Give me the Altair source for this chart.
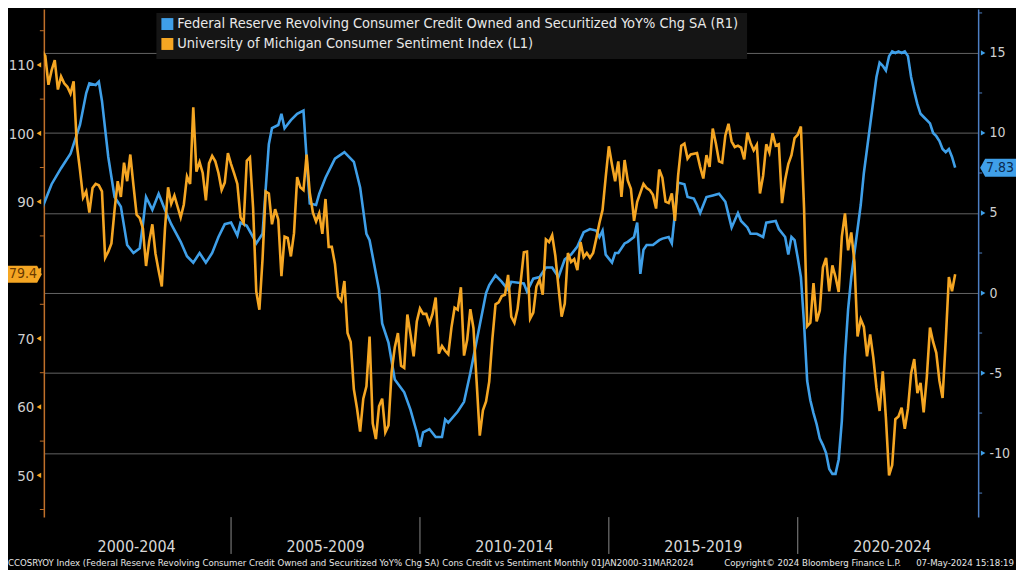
import altair as alt
import pandas as pd

FONT = "Liberation Sans Narrow, DejaVu Sans Condensed, Liberation Sans, sans-serif"
ORANGE = "#f5a623"
BLUE = "#3f9fe8"
BG = "#000000"

# ---------------- data ----------------
# University of Michigan Consumer Sentiment (L1), monthly from Jan 2000
sentiment_start = "2000-01-01"
sentiment = [
    112.0, 111.3, 107.1, 109.2, 110.7, 106.4, 108.3, 107.3, 106.8, 105.8, 107.6, 98.4,
    94.7, 90.6, 91.5, 88.4, 92.0, 92.6, 92.4, 91.5, 81.8, 82.7, 83.9, 88.8,
    93.0, 90.7, 95.7, 93.0, 96.9, 92.4, 88.1, 87.6, 86.1, 80.6, 84.2, 86.7,
    82.4, 79.9, 77.6, 86.0, 92.1, 89.7, 90.9, 89.3, 87.7, 89.6, 93.7, 92.6,
    103.8, 94.4, 95.8, 94.2, 90.2, 95.6, 96.7, 95.9, 94.2, 91.7, 92.8, 97.1,
    95.5, 94.1, 92.6, 87.7, 86.9, 96.0, 96.5, 89.1, 76.9, 74.2, 81.6, 91.5,
    91.2, 86.7, 88.9, 87.4, 79.1, 84.9, 84.7, 82.0, 85.4, 93.6, 92.1, 91.7,
    96.9, 91.3, 88.4, 87.1, 88.3, 85.3, 90.4, 83.4, 83.4, 80.9, 76.1, 75.5,
    78.4, 70.8, 69.5, 62.6, 59.8, 56.4, 61.2, 63.0, 70.3, 57.6, 55.3, 60.1,
    61.2, 56.3, 57.3, 65.1, 68.7, 70.8, 66.0, 65.7, 73.5, 70.6, 67.4, 72.5,
    74.4, 73.6, 73.6, 72.2, 73.6, 76.0, 67.8, 68.9, 68.2, 67.7, 71.6, 74.5,
    74.2, 77.5, 67.5, 69.8, 74.3, 71.5, 63.7, 55.8, 59.5, 60.8, 63.7, 69.9,
    75.0, 75.3, 76.2, 76.4, 79.3, 73.2, 72.3, 74.3, 78.3, 82.6, 82.7, 72.9,
    73.8, 77.6, 78.6, 76.4, 84.5, 84.1, 85.1, 82.1, 77.5, 73.2, 75.1, 82.5,
    81.2, 81.6, 80.0, 84.1, 81.9, 82.5, 81.8, 82.5, 84.6, 86.9, 88.8, 93.6,
    98.1, 95.4, 93.0, 95.9, 90.7, 96.1, 93.1, 91.9, 87.2, 90.0, 91.3, 92.6,
    92.0, 91.7, 91.0, 89.0, 94.7, 93.5, 90.0, 89.8, 91.2, 87.2, 93.8, 98.2,
    98.5, 96.3, 96.9, 97.0, 97.1, 95.1, 93.4, 96.8, 95.1, 100.7, 98.5, 95.9,
    95.7, 99.7, 101.4, 98.8, 98.0, 98.2, 97.9, 96.2, 100.1, 98.6, 97.5, 98.3,
    91.2, 93.8, 98.4, 97.2, 100.0, 98.2, 98.4, 89.8, 93.2, 95.5, 96.8, 99.3,
    99.8, 101.0, 89.1, 71.8, 72.3, 78.1, 72.5, 74.1, 80.4, 81.8, 76.9, 80.7,
    79.0, 76.8, 84.9, 88.3, 82.9, 85.5, 81.2, 70.3, 72.8, 71.7, 67.4, 70.6,
    67.2, 62.8, 59.4, 65.2, 58.4, 50.0, 51.5, 58.2, 58.6, 59.9, 56.8, 59.7,
    64.9, 67.0, 62.0, 63.5, 59.2, 64.4, 71.6, 69.5, 67.9, 63.8, 61.3, 69.7,
    79.0, 76.9, 79.4,
]

# Revolving consumer credit YoY % (R1)
credit_months = [
    "2000-01", "2000-04", "2000-07", "2000-10", "2001-01", "2001-03", "2001-04", "2001-06",
    "2001-07", "2001-08", "2001-10", "2001-12", "2002-01", "2002-02", "2002-04", "2002-06",
    "2002-08", "2002-09", "2002-10", "2002-12", "2003-02", "2003-04", "2003-06", "2003-09",
    "2003-11", "2004-01", "2004-03", "2004-05", "2004-07", "2004-09", "2004-11", "2005-01",
    "2005-03", "2005-04", "2005-06", "2005-08", "2005-09", "2005-11", "2006-01", "2006-02",
    "2006-04", "2006-05", "2006-06", "2006-08", "2006-10", "2006-12", "2007-01", "2007-02",
    "2007-04", "2007-05", "2007-07", "2007-10", "2008-01", "2008-02", "2008-04", "2008-06",
    "2008-08", "2008-09", "2008-12", "2009-01", "2009-03", "2009-05", "2009-08", "2009-10",
    "2009-12", "2010-01", "2010-02", "2010-04", "2010-06", "2010-08", "2010-09", "2010-10",
    "2011-01", "2011-03", "2011-05", "2011-06", "2011-08", "2011-10", "2011-11", "2012-01",
    "2012-03", "2012-05", "2012-06", "2012-10", "2012-11", "2013-01", "2013-03", "2013-05",
    "2013-07", "2013-09", "2013-11", "2014-01", "2014-03", "2014-05", "2014-07", "2014-09",
    "2014-10", "2014-11", "2014-12", "2015-02", "2015-03", "2015-04", "2015-06", "2015-07",
    "2015-09", "2015-10", "2015-11", "2015-12", "2016-01", "2016-03", "2016-05", "2016-06",
    "2016-08", "2016-09", "2016-10", "2016-11", "2017-01", "2017-02", "2017-04", "2017-05",
    "2017-06", "2017-08", "2017-10", "2017-12", "2018-02", "2018-03", "2018-04", "2018-06",
    "2018-07", "2018-09", "2018-10", "2018-12", "2019-02", "2019-03", "2019-06", "2019-07",
    "2019-09", "2019-10", "2019-11", "2019-12", "2020-01", "2020-02", "2020-03", "2020-04",
    "2020-05", "2020-06", "2020-07", "2020-08", "2020-09", "2020-10", "2020-11", "2020-12",
    "2021-01", "2021-02", "2021-03", "2021-04", "2021-05", "2021-06", "2021-07", "2021-08",
    "2021-09", "2021-10", "2021-11", "2021-12", "2022-01", "2022-02", "2022-03", "2022-04",
    "2022-05", "2022-06", "2022-07", "2022-08", "2022-09", "2022-10", "2022-11", "2022-12",
    "2023-01", "2023-02", "2023-03", "2023-04", "2023-05", "2023-06", "2023-07", "2023-08",
    "2023-09", "2023-10", "2023-11", "2023-12", "2024-01", "2024-02", "2024-03",
]
credit = [
    5.3, 6.8, 7.8, 8.7, 10.5, 12.5, 13.1, 13.0,
    13.2, 12.0, 8.5, 6.0, 5.7, 5.4, 3.0, 2.5,
    2.8, 4.3, 6.0, 5.2, 6.2, 5.2, 4.3, 3.2,
    2.3, 1.9, 2.5, 1.9, 2.5, 3.5, 4.3, 4.4,
    3.6, 4.4, 4.2, 3.5, 3.1, 3.7, 9.3, 10.3,
    10.5, 11.2, 10.3, 10.8, 11.2, 11.4, 8.4, 5.6,
    5.5, 6.2, 7.2, 8.4, 8.8, 8.6, 8.2, 6.6,
    3.7, 3.3, 0.2, -1.9, -3.1, -5.4, -6.2, -7.3,
    -8.7, -9.6, -8.7, -8.5, -9.0, -9.0, -7.9, -8.1,
    -7.4, -6.8, -5.0, -4.0, -2.0, 0.0, 0.5, 1.1,
    0.7, 0.2, 0.7, 0.6, 0.1, 0.9, 1.0, 1.6,
    1.6, 1.0, 2.1, 2.4, 2.9, 3.8, 4.0, 3.9,
    3.5, 3.9, 2.4, 1.9, 2.5, 2.5, 3.1, 3.2,
    3.5, 4.4, 1.2, 2.7, 3.0, 3.0, 3.3, 3.4,
    3.5, 3.1, 5.0, 6.9, 6.8, 6.0, 5.9, 5.5,
    5.0, 6.0, 6.1, 6.2, 5.7, 4.9, 4.1, 5.0,
    4.5, 4.1, 3.7, 3.7, 3.5, 4.4, 4.5, 4.0,
    3.5, 2.4, 3.5, 3.3, 2.2, 1.0, -1.9, -5.5,
    -6.7, -7.5, -8.2, -9.1, -9.5, -10.0, -11.0, -11.3,
    -11.3, -10.4, -8.0, -4.0, -1.0, 1.0, 2.5, 4.0,
    5.5, 7.5, 9.0, 10.5, 12.0, 13.5, 14.4, 14.2,
    13.9, 14.8, 15.1, 15.0, 15.1, 15.0, 15.1, 14.8,
    13.5, 12.6, 11.8, 11.2, 11.0, 10.8, 10.6, 10.0,
    9.8, 9.5, 9.0, 8.8, 9.0, 8.5, 7.83,
]

left_ticks = [50, 60, 70, 80, 90, 100, 110]
left_minor = [45, 55, 65, 75, 85, 95, 105, 115]
right_ticks = [-10, -5, 0, 5, 10, 15]
right_minor = [-12.5, -7.5, -2.5, 2.5, 7.5, 12.5, 17.5]
year_ticks = list(range(2001, 2025))
period_starts = [2000, 2005, 2010, 2015, 2020]
period_labels = ["2000-2004", "2005-2009", "2010-2014", "2015-2019", "2020-2024"]
legend_labels = [
    "Federal Reserve Revolving Consumer Credit Owned and Securitized YoY% Chg SA  (R1)",
    "University of Michigan Consumer Sentiment Index  (L1)",
]
legend_colors = [BLUE, ORANGE]
footer_left = ("CCOSRYOY Index (Federal Reserve Revolving Consumer Credit Owned and Securitized YoY% Chg SA) "
               "Cons Credit vs Sentiment  Monthly 01JAN2000-31MAR2024")
footer_mid = "Copyright\u00a9 2024 Bloomberg Finance L.P."
footer_right = "07-May-2024 15:18:19"

# ---------------- frames ----------------
d = pd.date_range(sentiment_start, periods=len(sentiment), freq="MS")
sent_df = pd.DataFrame({"t": d.year + (d.month - 1) / 12.0, "v": sentiment})
cd = pd.to_datetime(credit_months)
cred_df = pd.DataFrame({"t": cd.year + (cd.month - 1) / 12.0, "v": credit})

# the last-value tag hides the left label it sits on
left_labeled = [v for v in left_ticks if abs(v - sentiment[-1]) > 3]

W, H = 938, 510
xs = alt.Scale(domain=[2000.045, 2024.775], nice=False, zero=False)
ls = alt.Scale(domain=[43.89, 118.16], nice=False, zero=False)
rs = alt.Scale(domain=[-14.0, 17.74], nice=False, zero=False)

# ---------------- layers ----------------
blue_line = alt.Chart(cred_df).mark_line(color=BLUE, strokeWidth=2.6, clip=True).encode(
    x=alt.X("t:Q", scale=xs, axis=None),
    y=alt.Y("v:Q", scale=rs, axis=alt.Axis(
        orient="right", values=right_ticks, grid=True, gridColor="#646464", gridWidth=1,
        ticks=False, domainColor="#4d7fc4", domainWidth=1.5, labelColor="#d0d0d0",
        labelFont=FONT, labelFontSize=14, labelPadding=11, labelAlign="left", title=None,
        labelExpr="toString(datum.value)")),
)

orange_line = alt.Chart(sent_df).mark_line(color=ORANGE, strokeWidth=2.6, clip=True).encode(
    x=alt.X("t:Q", scale=xs, axis=alt.Axis(
        values=year_ticks, labels=False, tickSize=5, tickColor="#9a9a9a", domainColor="#b0b0b0",
        domainWidth=1.5, grid=False, title=None)),
    y=alt.Y("v:Q", scale=ls, axis=alt.Axis(
        orient="left", values=left_labeled, grid=False, ticks=False, domainColor="#c0702a",
        domainWidth=1.5, labelColor="#d0d0d0", labelFont=FONT, labelFontSize=15,
        labelPadding=10, title=None)),
)

lmaj = alt.Chart(pd.DataFrame({"v": left_ticks})).mark_point(
    shape="triangle-left", filled=True, size=28, color=ORANGE, opacity=1).encode(
    x=alt.value(-5), y=alt.Y("v:Q", scale=ls, axis=None))
lmin = alt.Chart(pd.DataFrame({"v": left_minor})).mark_rule(color="#c0702a", strokeWidth=1).encode(
    x=alt.value(-4), x2=alt.value(0), y=alt.Y("v:Q", scale=ls, axis=None))
rmaj = alt.Chart(pd.DataFrame({"v": right_ticks})).mark_point(
    shape="triangle-right", filled=True, size=28, color=BLUE, opacity=1).encode(
    x=alt.value(W + 5), y=alt.Y("v:Q", scale=rs, axis=None))
rmin = alt.Chart(pd.DataFrame({"v": right_minor})).mark_rule(color="#4d7fc4", strokeWidth=1).encode(
    x=alt.value(W), x2=alt.value(W + 4), y=alt.Y("v:Q", scale=rs, axis=None))

periods = pd.DataFrame({"start": period_starts, "label": period_labels})
seps = alt.Chart(periods).transform_filter("datum.start > 2000").mark_rule(
    color="#8a8a8a", strokeWidth=1).encode(
    x=alt.X("start:Q", scale=xs, axis=None), y=alt.value(H), y2=alt.value(H + 37))
plabels = alt.Chart(periods).transform_calculate(mid="datum.start + 2.5").mark_text(
    font=FONT, fontSize=16, color="#d8d8d8", baseline="middle").encode(
    x=alt.X("mid:Q", scale=xs, axis=None), y=alt.value(H + 30), text="label:N")

foot_l = alt.Chart(pd.DataFrame({"txt": [footer_left]})).mark_text(
    font=FONT, fontSize=9.6, color="#e6e6e6", align="left", baseline="middle").encode(
    x=alt.value(-36), y=alt.value(H + 46), text="txt:N")
foot_m = alt.Chart(pd.DataFrame({"txt": [footer_mid]})).mark_text(
    font=FONT, fontSize=9.6, color="#e6e6e6", align="left", baseline="middle").encode(
    x=alt.value(683), y=alt.value(H + 46), text="txt:N")
foot_r = alt.Chart(pd.DataFrame({"txt": [footer_right]})).mark_text(
    font=FONT, fontSize=9.6, color="#e6e6e6", align="right", baseline="middle").encode(
    x=alt.value(974), y=alt.value(H + 46), text="txt:N")

# last-value tags
LTAG = "M-1,-0.5 L0.72,-0.5 L1,0 L0.72,0.5 L-1,0.5 Z"
RTAG = "M-1,0 L-0.72,-0.5 L1,-0.5 L1,0.5 L-0.72,0.5 Z"
last_sent = sent_df.tail(1)
last_cred = cred_df.tail(1)
ltag = alt.Chart(last_sent).mark_point(shape=LTAG, filled=True, size=1156, color=ORANGE, opacity=1).encode(
    x=alt.value(-19), y=alt.Y("v:Q", scale=ls, axis=None))
ltag_t = alt.Chart(last_sent).mark_text(font=FONT, fontSize=14, color="#6a3a00", dx=-2).encode(
    x=alt.value(-19), y=alt.Y("v:Q", scale=ls, axis=None), text=alt.Text("v:Q", format=".1f"))
rtag = alt.Chart(last_cred).mark_point(shape=RTAG, filled=True, size=1296, color=BLUE, opacity=1).encode(
    x=alt.value(W + 20), y=alt.Y("v:Q", scale=rs, axis=None))
rtag_t = alt.Chart(last_cred).mark_text(font=FONT, fontSize=14, color="#0b2a4d", dx=2).encode(
    x=alt.value(W + 20), y=alt.Y("v:Q", scale=rs, axis=None), text=alt.Text("v:Q", format=".2f"))

# legend box
leg = pd.DataFrame({"label": legend_labels, "color": legend_colors, "row": [0, 1]})
rowscale = alt.Scale(domain=[0, 1], range=[15, 35])
leg_box = alt.Chart(pd.DataFrame({"a": [0]})).mark_rect(color="#151515").encode(
    x=alt.value(113), x2=alt.value(706), y=alt.value(4), y2=alt.value(50))
leg_sq = alt.Chart(leg).mark_square(size=144, filled=True, opacity=1).encode(
    x=alt.value(124),
    y=alt.Y("row:Q", scale=rowscale, axis=None),
    color=alt.Color("color:N", scale=None, legend=None))
leg_tx = alt.Chart(leg).mark_text(font=FONT, fontSize=14.5, color="#e8e8e8", align="left",
                                  baseline="middle").encode(
    x=alt.value(134),
    y=alt.Y("row:Q", scale=rowscale, axis=None),
    text="label:N")

chart = alt.layer(
    blue_line, orange_line, lmaj, lmin, rmaj, rmin, seps, plabels,
    foot_l, foot_m, foot_r, ltag, ltag_t, rtag, rtag_t, leg_box, leg_sq, leg_tx,
).resolve_scale(y="independent").properties(
    width=W, height=H, background=BG,
    padding={"left": 36, "top": 0, "right": 38, "bottom": 52},
    autosize=alt.AutoSizeParams(type="none"),
).configure_view(strokeWidth=0)

chart.save("out.html", embed_options={"renderer": "svg", "actions": False})
